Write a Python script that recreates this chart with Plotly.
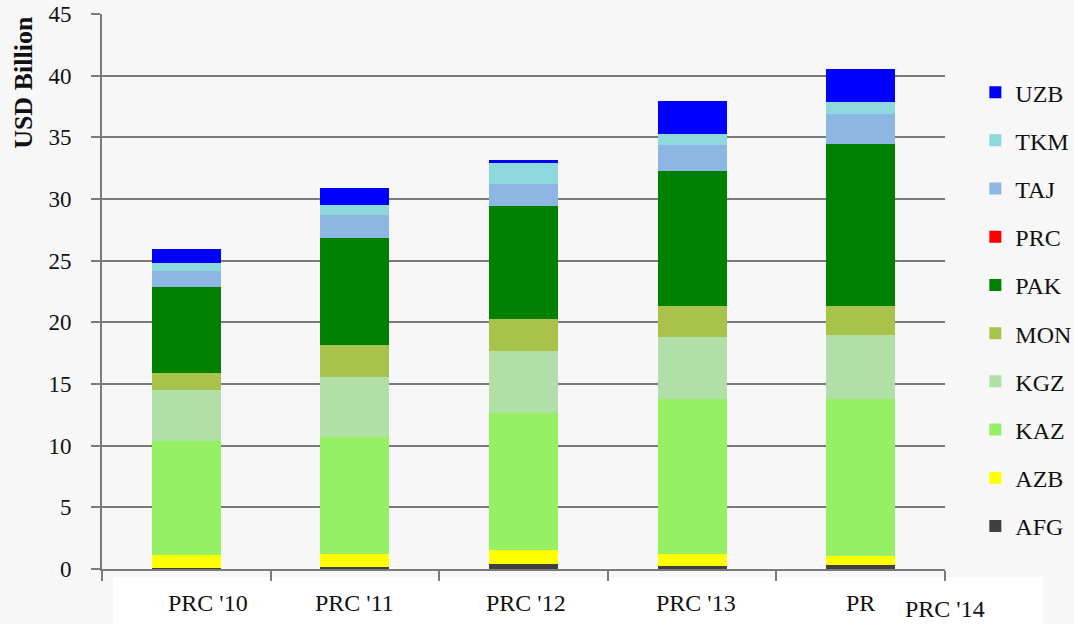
import plotly.graph_objects as go

categories = ["PRC '10", "PRC '11", "PRC '12", "PRC '13", "PRC '14"]
tick_labels = ["PRC '10", "PRC '11", "PRC '12", "PRC '13", "PR"]

AFG = [0.1, 0.15, 0.4, 0.25, 0.3]
AZB = [1.0, 1.05, 1.15, 0.95, 0.75]
KAZ = [9.3, 9.5, 11.1, 12.6, 12.75]
KGZ = [4.1, 4.9, 5.0, 5.0, 5.2]
MON = [1.4, 2.6, 2.6, 2.5, 2.3]
PAK = [7.0, 8.6, 9.2, 11.0, 13.2]
PRC = [0, 0, 0, 0, 0]
TAJ = [1.3, 1.9, 1.8, 2.1, 2.4]
TKM = [0.6, 0.8, 1.7, 0.9, 1.0]
UZB = [1.15, 1.4, 0.25, 2.65, 2.65]

series = [
    ("AFG", AFG, "#404040"),
    ("AZB", AZB, "#ffff00"),
    ("KAZ", KAZ, "#96f064"),
    ("KGZ", KGZ, "#b0dfa8"),
    ("MON", MON, "#a9c24a"),
    ("PAK", PAK, "#008000"),
    ("PRC", PRC, "#ff0000"),
    ("TAJ", TAJ, "#8db6e2"),
    ("TKM", TKM, "#8cd8dc"),
    ("UZB", UZB, "#0000ff"),
]

SERIF = "Liberation Serif"
GRID = "#7a7a7a"

fig = go.Figure()
n = len(series)
for i, (name, vals, col) in enumerate(series):
    fig.add_trace(go.Bar(
        x=categories, y=vals, name=name, legendgroup=name,
        legendrank=n - i,
        marker=dict(color=col, line=dict(width=0)),
    ))

fig.update_layout(
    width=1074, height=624,
    barmode="stack", bargap=0.59,
    paper_bgcolor="#f7f7f7", plot_bgcolor="#f7f7f7",
    margin=dict(l=102, r=129, t=14, b=55, autoexpand=False),
    font=dict(family=SERIF, color="#111111"),
    showlegend=True,
    legend=dict(
        x=1.036, y=0.899, xanchor="left", yanchor="top",
        traceorder="grouped", tracegroupgap=14,
        font=dict(family=SERIF, size=24, color="#111111"),
        bgcolor="rgba(0,0,0,0)",
    ),
    xaxis=dict(
        type="category", showticklabels=False,
        showline=True, linecolor=GRID, linewidth=2,
        ticks="outside", tickson="boundaries", ticklen=10, tickcolor=GRID, tickwidth=2,
        showgrid=False, fixedrange=True,
    ),
    yaxis=dict(
        range=[0, 45], dtick=5, tick0=0,
        showline=True, linecolor=GRID, linewidth=2,
        ticks="outside", ticklen=9, tickcolor=GRID, tickwidth=2,
        showgrid=True, gridcolor=GRID, gridwidth=2, zeroline=False,
        tickfont=dict(family=SERIF, size=23, color="#111111"),
        ticklabelstandoff=15,
    ),
)

# white box behind category labels
fig.add_shape(type="rect", xref="paper", yref="paper",
              x0=0.013, x1=1.116, y0=-0.1, y1=-0.0144,
              fillcolor="#ffffff", line=dict(width=0), layer="below")

shifts = [22, 0, 2, 4, 0]
for cat, lab, sh in zip(categories, tick_labels, shifts):
    fig.add_annotation(x=cat, xref="x", y=0, yref="paper", yanchor="middle",
                       yshift=-34, xshift=sh, text=lab, showarrow=False,
                       font=dict(family=SERIF, size=24, color="#111111"))

fig.add_annotation(x=1.0, xref="paper", y=0, yref="paper", yanchor="middle",
                   xanchor="center", yshift=-40, text=categories[-1], showarrow=False,
                   font=dict(family=SERIF, size=24, color="#111111"))

fig.add_annotation(x=-0.093, xref="paper", y=0.877, yref="paper",
                   xanchor="center", yanchor="middle", textangle=-90,
                   text="<b>USD Billion</b>", showarrow=False,
                   font=dict(family=SERIF, size=26, color="#111111"))

fig.write_html("out.html",
               config={"displayModeBar": False},
               post_script="document.body.style.margin='0';document.body.style.overflow='hidden';")
